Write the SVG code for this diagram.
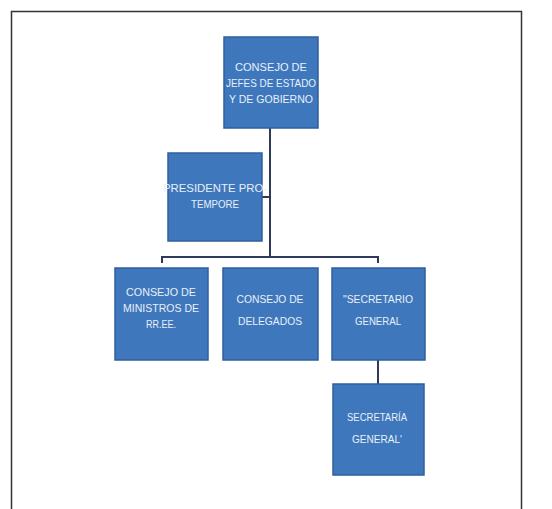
<svg xmlns="http://www.w3.org/2000/svg" width="552" height="509" viewBox="0 0 552 509">
<style>
.box{fill:#3F77BC;stroke:#2F5F9E;stroke-width:1.5}
.t{font-family:"Liberation Sans",Arial,sans-serif;font-size:11px;fill:#E8F0FA;text-anchor:middle}
.c{stroke:#2E3A58;stroke-width:2;fill:none}
</style>
<rect x="0" y="0" width="552" height="509" fill="#FFFFFF"/>
<rect x="11.5" y="11.5" width="510" height="510" fill="none" stroke="#333333" stroke-width="1.5"/>
<g id="connectors">
<path class="c" d="M270 128 V257"/>
<path class="c" d="M262 197 H270"/>
<path class="c" d="M162 263 V257 H378 V263"/>
<path class="c" d="M378 360 V384"/>
</g>
<g id="consejo-jefes">
<rect class="box" x="224" y="37" width="94" height="91"/>
<text class="t" x="271" y="71" textLength="72" lengthAdjust="spacingAndGlyphs">CONSEJO DE</text>
<text class="t" x="271" y="87" textLength="90" lengthAdjust="spacingAndGlyphs">JEFES DE ESTADO</text>
<text class="t" x="271" y="103" textLength="84" lengthAdjust="spacingAndGlyphs">Y DE GOBIERNO</text>
</g>
<g id="presidente">
<rect class="box" x="168" y="153" width="94" height="88"/>
<text class="t" x="215" y="192" textLength="104" lengthAdjust="spacingAndGlyphs">PRESIDENTE PRO-</text>
<text class="t" x="215" y="208" textLength="48" lengthAdjust="spacingAndGlyphs">TEMPORE</text>
</g>
<g id="consejo-ministros">
<rect class="box" x="115" y="268" width="93" height="92"/>
<text class="t" x="161" y="296" textLength="70" lengthAdjust="spacingAndGlyphs">CONSEJO DE</text>
<text class="t" x="161" y="312" textLength="76" lengthAdjust="spacingAndGlyphs">MINISTROS DE</text>
<text class="t" x="161" y="328" textLength="30" lengthAdjust="spacingAndGlyphs">RR.EE.</text>
</g>
<g id="consejo-delegados">
<rect class="box" x="223" y="268" width="95" height="92"/>
<text class="t" x="270" y="303" textLength="67" lengthAdjust="spacingAndGlyphs">CONSEJO DE</text>
<text class="t" x="270" y="325" textLength="64" lengthAdjust="spacingAndGlyphs">DELEGADOS</text>
</g>
<g id="secretario-general">
<rect class="box" x="332" y="268" width="93" height="92"/>
<text class="t" x="378" y="303" textLength="70" lengthAdjust="spacingAndGlyphs">"SECRETARIO</text>
<text class="t" x="378" y="325" textLength="46" lengthAdjust="spacingAndGlyphs">GENERAL</text>
</g>
<g id="secretaria-general">
<rect class="box" x="333" y="384" width="91" height="91"/>
<text class="t" x="377" y="421" textLength="60" lengthAdjust="spacingAndGlyphs">SECRETARÍA</text>
<text class="t" x="377" y="443" textLength="50" lengthAdjust="spacingAndGlyphs">GENERAL'</text>
</g>
</svg>
